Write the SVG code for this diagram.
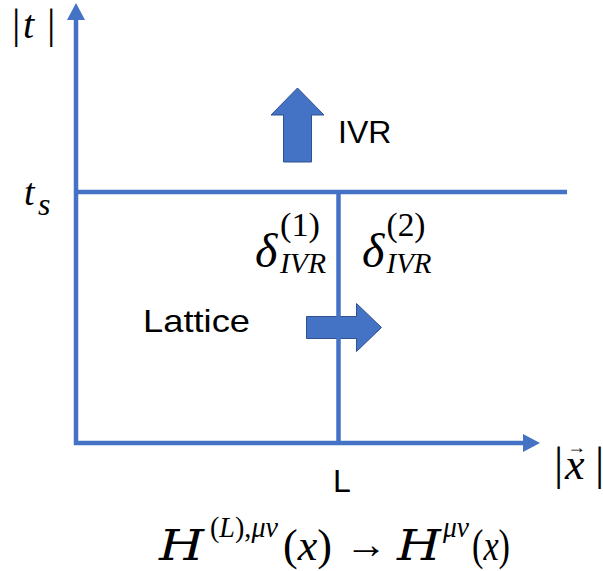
<svg xmlns="http://www.w3.org/2000/svg" width="603" height="571" viewBox="0 0 603 571">
<style>
.ax{stroke:#4472C4;stroke-width:4.5;fill:none}
.blk{fill:#4472C4;stroke:#2F528F;stroke-width:1}
.sans{font-family:"Liberation Sans",Arial,sans-serif;font-size:32px;fill:#000}
.m{font-family:"Liberation Serif","Times New Roman",serif;fill:#000}
.d{font-family:"DejaVu Serif","Liberation Serif",serif;fill:#000}
.i{font-style:italic}
</style>
<defs>
<marker id="ah" markerUnits="userSpaceOnUse" markerWidth="18" markerHeight="18" refX="0" refY="9" orient="auto">
<path d="M0,0 L17,9 L0,18 z" fill="#4472C4"/>
</marker>
</defs>
<g id="ivr-arrow">
<polygon class="blk" points="297.5,88 324,115 311.5,115 311.5,162 283.5,162 283.5,115 271,115"/>
</g>
<g id="lattice-arrow">
<polygon class="blk" points="306.5,316.5 356.5,316.5 356.5,303.5 381.5,327.5 356.5,351.5 356.5,338.5 306.5,338.5"/>
</g>
<g id="connectors">
<line class="ax" x1="76" y1="445" x2="76" y2="20" marker-end="url(#ah)"/>
<line class="ax" x1="74" y1="443" x2="523" y2="443" marker-end="url(#ah)"/>
<line class="ax" x1="76" y1="192" x2="567" y2="192"/>
<line class="ax" x1="338.5" y1="192" x2="338.5" y2="443"/>
</g>
<g id="labels">
<text class="sans" x="338" y="143">IVR</text>
<text class="sans" x="143" y="331.5" font-size="33" textLength="107" lengthAdjust="spacingAndGlyphs">Lattice</text>
<text class="sans" x="333" y="491.5" font-size="34">L</text>
</g>
<g id="axis-t">
<text class="m" y="38" font-size="42"><tspan x="12">|</tspan><tspan x="23" class="i" font-size="40">t</tspan><tspan x="47">|</tspan></text>
</g>
<g id="axis-x">
<text class="m" y="479" font-size="46"><tspan x="554">|</tspan><tspan x="565" class="i" font-size="44">x</tspan><tspan x="595">|</tspan></text>
<text class="m" x="567" y="453" font-size="18" textLength="19" lengthAdjust="spacingAndGlyphs">→</text>
</g>
<g id="ts">
<text class="m i" x="24" y="205" font-size="38">t</text>
<text class="m i" x="38" y="215" font-size="32">s</text>
</g>
<g id="delta1">
<text class="m i" x="255" y="267" font-size="48">δ</text>
<text class="m" x="280" y="236" font-size="34" textLength="40" lengthAdjust="spacingAndGlyphs">(1)</text>
<text class="m i" x="280" y="273" font-size="30" textLength="46" lengthAdjust="spacingAndGlyphs">IVR</text>
</g>
<g id="delta2">
<text class="m i" x="362" y="267" font-size="48">δ</text>
<text class="m" x="386.5" y="236" font-size="34" textLength="39" lengthAdjust="spacingAndGlyphs">(2)</text>
<text class="m i" x="386.5" y="273" font-size="30" textLength="45" lengthAdjust="spacingAndGlyphs">IVR</text>
</g>
<g id="formula">
<text class="d i" x="159" y="560" font-size="42" textLength="45" lengthAdjust="spacingAndGlyphs">H</text>
<text class="m" x="210" y="537" font-size="30" textLength="68" lengthAdjust="spacingAndGlyphs">(<tspan class="i">L</tspan>),<tspan class="i">μν</tspan></text>
<text class="m" x="283" y="560" font-size="44" textLength="49" lengthAdjust="spacingAndGlyphs">(<tspan class="i">x</tspan>)</text>
<text class="m" x="345" y="558" font-size="40" textLength="42" lengthAdjust="spacingAndGlyphs">→</text>
<text class="d i" x="397" y="560" font-size="42" textLength="44" lengthAdjust="spacingAndGlyphs">H</text>
<text class="m i" x="443" y="537" font-size="30" textLength="26" lengthAdjust="spacingAndGlyphs">μν</text>
<text class="m" x="472" y="560" font-size="44" textLength="38" lengthAdjust="spacingAndGlyphs">(<tspan class="i">x</tspan>)</text>
</g>
</svg>
